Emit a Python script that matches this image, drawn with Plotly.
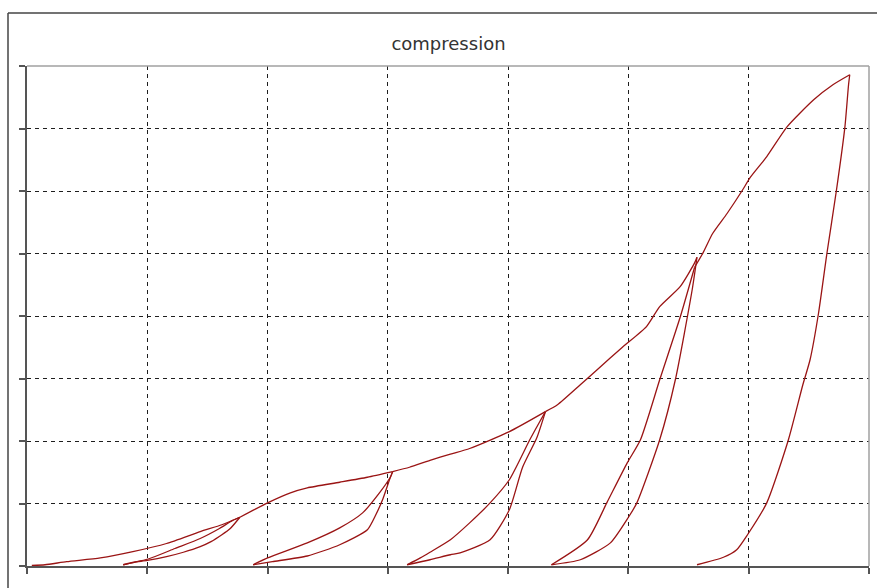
import plotly.graph_objects as go

# ---- data ----
load0_x = [0.04, 0.15, 0.33, 0.61, 0.88, 1.16, 1.44, 1.62, 1.77]
load0_y = [0.01, 0.02, 0.07, 0.13, 0.23, 0.36, 0.55, 0.66, 0.78]
unload1_x = [1.77, 1.69, 1.62, 1.53, 1.44, 1.30, 1.16, 1.00, 0.89, 0.80]
unload1_y = [0.78, 0.60, 0.50, 0.39, 0.31, 0.22, 0.15, 0.09, 0.06, 0.02]
reload1_x = [0.80, 1.02, 1.23, 1.44, 1.60, 1.71, 1.77]
reload1_y = [0.02, 0.12, 0.28, 0.44, 0.60, 0.73, 0.78]

load1_x = [1.77, 2.00, 2.19, 2.33, 2.60, 2.83, 3.04]
load1_y = [0.78, 1.01, 1.17, 1.25, 1.34, 1.42, 1.51]
unload2_x = [3.04, 3.01, 2.96, 2.90, 2.83, 2.60, 2.33, 2.04, 1.88]
unload2_y = [1.51, 1.36, 1.08, 0.82, 0.58, 0.34, 0.16, 0.07, 0.02]
reload2_x = [1.88, 2.00, 2.33, 2.60, 2.79, 2.93, 3.02, 3.04]
reload2_y = [0.02, 0.13, 0.37, 0.61, 0.85, 1.17, 1.42, 1.51]

load2_x = [3.04, 3.18, 3.35, 3.52, 3.68, 4.01, 4.31]
load2_y = [1.51, 1.58, 1.69, 1.79, 1.88, 2.15, 2.47]
unload3_x = [4.31, 4.24, 4.12, 4.01, 3.85, 3.60, 3.52, 3.35, 3.16]
unload3_y = [2.47, 2.06, 1.58, 0.90, 0.42, 0.21, 0.18, 0.10, 0.02]
reload3_x = [3.16, 3.27, 3.35, 3.52, 3.68, 3.85, 4.01, 4.18, 4.26, 4.31]
reload3_y = [0.02, 0.13, 0.22, 0.42, 0.69, 1.01, 1.38, 2.02, 2.30, 2.47]

load3_x = [4.31, 4.41, 4.60, 4.74, 4.95, 5.15, 5.26, 5.43, 5.55, 5.57]
load3_y = [2.47, 2.58, 2.90, 3.14, 3.50, 3.83, 4.15, 4.47, 4.85, 4.94]
unload4_x = [5.57, 5.53, 5.39, 5.26, 5.07, 5.00, 4.85, 4.60, 4.36]
unload4_y = [4.94, 4.42, 2.98, 2.02, 1.01, 0.78, 0.37, 0.10, 0.02]
reload4_x = [4.36, 4.66, 4.82, 4.99, 5.10, 5.26, 5.43, 5.55]
reload4_y = [0.02, 0.42, 1.01, 1.65, 2.02, 2.98, 3.98, 4.78]

load4_x = [5.55, 5.62, 5.70, 5.82, 5.95, 6.01, 6.15, 6.32, 6.54, 6.70, 6.84]
load4_y = [4.78, 5.01, 5.32, 5.64, 6.02, 6.21, 6.55, 7.03, 7.46, 7.70, 7.86]
unload5_x = [6.84, 6.83, 6.80, 6.73, 6.65, 6.58, 6.51, 6.45, 6.33, 6.15, 5.99, 5.90, 5.79, 5.57]
unload5_y = [7.86, 7.70, 7.03, 6.02, 5.00, 4.04, 3.30, 2.90, 2.02, 1.01, 0.50, 0.26, 0.14, 0.02]

x_ticks = [0, 1, 2, 3, 4, 5, 6, 7]
y_ticks = [0, 1, 2, 3, 4, 5, 6, 7, 8]
title_text = "compression"

segments_x = [load0_x, unload1_x, reload1_x, load1_x, unload2_x, reload2_x,
              load2_x, unload3_x, reload3_x, load3_x, unload4_x, reload4_x,
              load4_x, unload5_x]
segments_y = [load0_y, unload1_y, reload1_y, load1_y, unload2_y, reload2_y,
              load2_y, unload3_y, reload3_y, load3_y, unload4_y, reload4_y,
              load4_y, unload5_y]

W, H = 877, 588
ML, MR, MT, MB = 27, 8, 66, 22
pw = W - ML - MR
ph = H - MT - MB

def px_x(p):
    return (p - ML) / pw

def px_y(p):
    return (H - MB - p) / ph

fig = go.Figure()
for sx, sy in zip(segments_x, segments_y):
    fig.add_trace(go.Scatter(x=sx, y=sy, mode="lines",
                             line=dict(color="#9a1414", width=1.3,
                                       shape="spline", smoothing=0.6),
                             hoverinfo="skip", showlegend=False))

axis_common = dict(showticklabels=False, ticks="outside", ticklen=6,
                   tickwidth=1.5, tickcolor="#555555", showline=True,
                   linecolor="#555555", linewidth=1.5, zeroline=False,
                   showgrid=True, gridcolor="#1e1e1e", gridwidth=1.2,
                   griddash="4px,4px", fixedrange=True)

fig.update_xaxes(range=[x_ticks[0], x_ticks[-1]], tickvals=x_ticks, **axis_common)
fig.update_yaxes(range=[y_ticks[0], y_ticks[-1]], tickvals=y_ticks, **axis_common)

shapes = [
    dict(type="line", xref="paper", yref="paper", x0=0, x1=1, y0=1, y1=1,
         line=dict(color="#a0a0a0", width=1.5)),
    dict(type="line", xref="paper", yref="paper", x0=1, x1=1, y0=0, y1=1,
         line=dict(color="#a0a0a0", width=1.5)),
    dict(type="line", xref="paper", yref="paper", x0=px_x(8), x1=px_x(W + 5),
         y0=px_y(13), y1=px_y(13), line=dict(color="#444444", width=1.5)),
    dict(type="line", xref="paper", yref="paper", x0=px_x(8), x1=px_x(8),
         y0=px_y(13), y1=px_y(H + 5), line=dict(color="#444444", width=1.5)),
]

fig.update_layout(
    width=W, height=H,
    margin=dict(l=ML, r=MR, t=MT, b=MB),
    paper_bgcolor="white", plot_bgcolor="white",
    shapes=shapes,
    title=dict(text=title_text, x=448.5 / W, xanchor="center",
               y=1 - 43.5 / H, yanchor="middle", yref="container",
               font=dict(family="DejaVu Sans", size=18, color="#333333")),
)

fig.write_html("out.html", config={"displayModeBar": False},
               post_script="document.body.style.margin='0';document.body.style.overflow='hidden';")
